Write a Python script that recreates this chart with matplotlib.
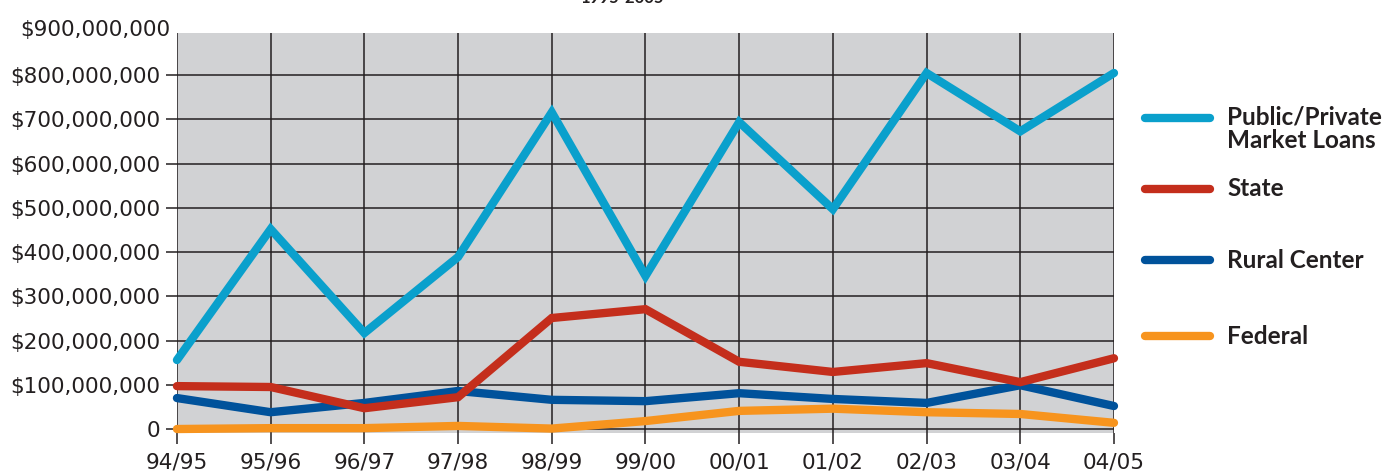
import matplotlib.pyplot as plt
from matplotlib import font_manager

# 贷款来源（1995-2005）
years = ["94/95", "95/96", "96/97", "97/98", "98/99", "99/00",
         "00/01", "01/02", "02/03", "03/04", "04/05"]
public_private = [156, 452, 217, 389, 716, 346, 694, 497, 805, 673, 805]
state = [97, 95, 47, 72, 251, 271, 152, 129, 149, 106, 160]
rural_center = [70, 38, 59, 86, 66, 63, 81, 68, 59, 99, 52]
federal = [0, 2, 2, 7, 1, 18, 41, 46, 38, 34, 14]
ytick_vals = [0, 100, 200, 300, 400, 500, 600, 700, 800, 900]

names = ["Public/Private\nMarket Loans", "State", "Rural Center", "Federal"]
colors = ["#0aa0cc", "#c42e1c", "#00529b", "#f7941e"]

installed = {f.name for f in font_manager.fontManager.ttflist}
narrow = "Liberation Sans Narrow" if "Liberation Sans Narrow" in installed else "DejaVu Sans"

fig = plt.figure(figsize=(14, 4.74), dpi=100)
ax = fig.add_axes([0.1264, 0.0865, 0.6693, 0.8435])
ax.set_facecolor("#d1d2d4")

M = 1e6
x = list(range(len(years)))
series = [public_private, state, rural_center, federal]
for vals, c in zip(series[::-1], colors[::-1]):
    ax.plot(x, [v * M for v in vals], color=c, lw=6, solid_capstyle="round",
            solid_joinstyle="miter", clip_on=False, zorder=3)

ax.set_xlim(0, 10)
ax.set_ylim(-9 * M, 895 * M)
ax.set_xticks(x)
ax.set_xticklabels(years)
ax.set_yticks([v * M for v in ytick_vals[:-1]])
ax.set_yticklabels(["0"] + ["${:,}".format(v * 1000000) for v in ytick_vals[1:-1]])
# 900M 刻度在坐标范围外，单独写
ax.text(-0.065, 903 * M, "${:,}".format(ytick_vals[-1] * 1000000), ha="right", va="center",
        fontsize=15.5, family=narrow, color="#231f20", clip_on=False)

ax.grid(True, color="#231f20", lw=1.1, zorder=1)
ax.set_axisbelow(True)
for s in ax.spines.values():
    s.set_visible(False)
ax.tick_params(axis="both", length=8, width=1.1, color="#231f20", labelcolor="#231f20")
ax.tick_params(axis="y", pad=4)
ax.tick_params(axis="x", pad=6)
for lab in ax.get_xticklabels() + ax.get_yticklabels():
    lab.set_family(narrow)
    lab.set_fontsize(15.5)

# 图例
fig_w, fig_h = 1400, 474
legend_y = [118, 189, 260, 336]
for name, c, yy in zip(names, colors, legend_y):
    fy = 1 - yy / fig_h
    fig.add_artist(plt.Line2D([1145 / fig_w, 1210 / fig_w], [fy, fy], color=c, lw=6,
                              solid_capstyle="round"))
    if "\n" in name:
        fig.text(1227 / fig_w, 1 - 129 / fig_h, name, ha="left", va="center",
                 fontsize=17.5, fontweight="bold", family="Lato", color="#231f20",
                 linespacing=1.05)
    else:
        fig.text(1227 / fig_w, fy, name, ha="left", va="center",
                 fontsize=17.5, fontweight="bold", family="Lato", color="#231f20")

fig.text(0.445, 1 - 3 / fig_h, "1995-2005", ha="center", va="baseline",
         fontsize=12, fontweight="bold", family="Lato", color="#231f20")

fig.savefig("out.png", dpi=100)
